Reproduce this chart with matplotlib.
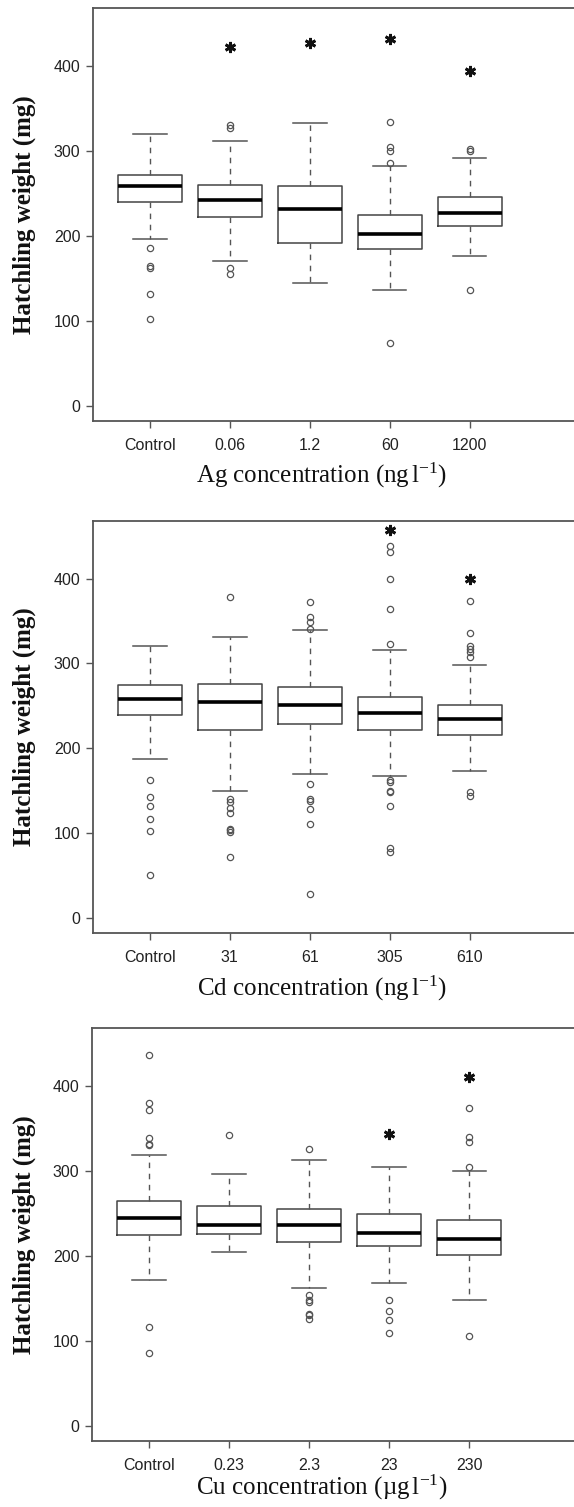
import matplotlib
matplotlib.use("Agg")
import matplotlib.pyplot as plt

plt.rcParams['font.family'] = 'sans-serif'
plt.rcParams['font.sans-serif'] = ['Liberation Sans']
plt.rcParams['mathtext.fontset'] = 'custom'
plt.rcParams['mathtext.rm'] = 'Liberation Serif'
plt.rcParams['mathtext.it'] = 'Liberation Serif:italic'

# Ag panel
ag_labels = ['Control', '0.06', '1.2', '60', '1200']
ag_whislo = [196, 170, 144, 136, 176]
ag_q1 = [240, 222, 192, 184, 212]
ag_med = [258, 242, 231, 202, 227]
ag_q3 = [272, 260, 258, 224, 246]
ag_whishi = [320, 312, 333, 282, 292]
ag_fliers = [[186, 164, 162, 132, 102],
             [330, 327, 162, 155],
             [],
             [334, 304, 300, 286, 74],
             [302, 300, 136]]
ag_star = [None, 422, 427, 432, 394]

# Cd panel
cd_labels = ['Control', '31', '61', '305', '610']
cd_whislo = [187, 150, 169, 167, 173]
cd_q1 = [239, 222, 229, 222, 216]
cd_med = [258, 255, 251, 241, 234]
cd_q3 = [274, 276, 272, 260, 251]
cd_whishi = [321, 331, 339, 316, 298]
cd_fliers = [[162, 142, 132, 116, 102, 50],
             [378, 140, 136, 129, 124, 105, 103, 101, 72],
             [372, 355, 349, 341, 158, 140, 138, 128, 110, 28],
             [439, 432, 400, 364, 323, 163, 160, 150, 148, 132, 82, 78],
             [374, 336, 321, 317, 313, 308, 148, 144]]
cd_star = [None, None, None, 457, 399]

# Cu panel
cu_labels = ['Control', '0.23', '2.3', '23', '230']
cu_whislo = [171, 204, 162, 168, 148]
cu_q1 = [224, 226, 216, 211, 201]
cu_med = [244, 236, 236, 227, 220]
cu_q3 = [264, 259, 255, 249, 242]
cu_whishi = [318, 296, 313, 304, 300]
cu_fliers = [[436, 380, 372, 339, 332, 330, 116, 85],
             [342],
             [326, 154, 148, 146, 132, 130, 125],
             [148, 135, 124, 109],
             [374, 340, 334, 304, 106]]
cu_star = [None, None, None, 343, 410]

panels = [
    (ag_labels, ag_whislo, ag_q1, ag_med, ag_q3, ag_whishi, ag_fliers, ag_star,
     'Ag concentration (ng$\\,$l$^{-1}$)'),
    (cd_labels, cd_whislo, cd_q1, cd_med, cd_q3, cd_whishi, cd_fliers, cd_star,
     'Cd concentration (ng$\\,$l$^{-1}$)'),
    (cu_labels, cu_whislo, cu_q1, cu_med, cu_q3, cu_whishi, cu_fliers, cu_star,
     'Cu concentration (\u00b5g$\\,$l$^{-1}$)'),
]

W, H = 574, 1507
fig = plt.figure(figsize=(W / 100, H / 100), dpi=100)

# pixel boxes: left, top, bottom of each frame, baseline of x title
frames = [(93, 8, 421, 483), (93, 521, 933, 996), (92, 1028, 1441, 1495)]
line_col = '#555555'

for (labels, wlo, q1, med, q3, whi, fl, star, xlab), (px_l, px_t, px_b, px_xl) in zip(panels, frames):
    ax = fig.add_axes([px_l / W, 1 - px_b / H, (W + 2 - px_l) / W, (px_b - px_t) / H])
    stats = []
    for i in range(len(labels)):
        stats.append(dict(whislo=wlo[i], q1=q1[i], med=med[i], q3=q3[i],
                          whishi=whi[i], fliers=fl[i], label=labels[i]))
    ax.bxp(stats, positions=range(1, 6), widths=0.8, capwidths=0.42,
           boxprops=dict(color='#444444', lw=1.1),
           medianprops=dict(color='black', lw=2.6, solid_capstyle='butt'),
           whiskerprops=dict(color='#555555', lw=1.0, linestyle=(0, (4, 4))),
           capprops=dict(color='#555555', lw=1.1),
           flierprops=dict(marker='o', markerfacecolor='none',
                           markeredgecolor='#555555', markersize=4.5,
                           markeredgewidth=0.9))
    # significance asterisks
    sx = [i + 1 for i, s in enumerate(star) if s is not None]
    sy = [s for s in star if s is not None]
    ax.plot(sx, sy, linestyle='none', marker=(6, 2, 0), markersize=8,
            markeredgewidth=2.0, color='#111111')
    ax.set_xlim(0.29, 6.33)
    ax.set_ylim(-18, 468)
    ax.set_yticks([0, 100, 200, 300, 400])
    for sp in ax.spines.values():
        sp.set_color(line_col)
        sp.set_linewidth(1.3)
    ax.tick_params(axis='both', colors=line_col, length=5, width=1.0,
                   labelsize=11.5, labelcolor='#222222', pad=4)
    ax.tick_params(axis='x', pad=7)
    ax.set_xticklabels(labels)
    # axis titles
    fig.text(322 / W, 1 - px_xl / H, xlab, ha='center', va='baseline',
             fontsize=18, family='Liberation Serif', color='#111111')
    fig.text(24 / W, 1 - (px_t + px_b) / 2 / H, 'Hatchling weight (mg)',
             rotation=90, ha='center', va='center', fontsize=18,
             family='Liberation Serif', fontweight='bold', color='#111111')

fig.savefig('out.png', dpi=100)
